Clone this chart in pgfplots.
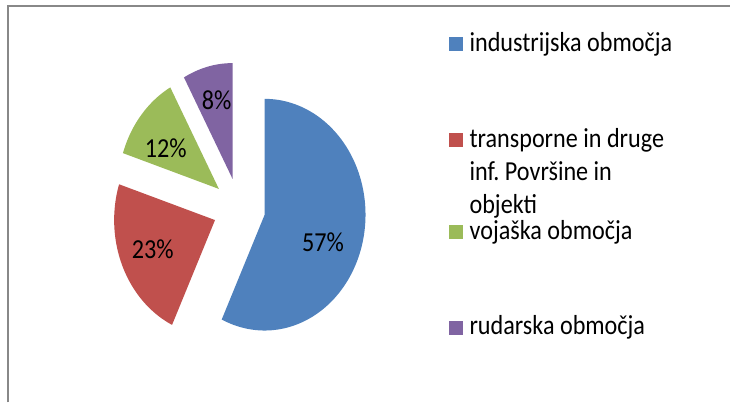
\documentclass[border=0pt]{standalone}
\usepackage{pgfplots}
\pgfplotsset{compat=1.18}
\usepackage{graphicx}
\usepackage{fontspec}
\setmainfont{Carlito}
\frenchspacing
\definecolor{cA}{HTML}{4F81BD}
\definecolor{cB}{HTML}{C0504D}
\definecolor{cC}{HTML}{9BBB59}
\definecolor{cD}{HTML}{8064A2}
\definecolor{framegray}{HTML}{888888}
\newcommand\txt[1]{\scalebox{0.88}[1]{\fontsize{27.5}{33}\selectfont #1}}
\begin{document}
\begin{tikzpicture}
% data: shares in percent
\def\pA{57}\def\pB{23}\def\pC{12}\def\pD{8}
% geometry (pixel units)
\def\rx{101}\def\ry{116}\def\cx{239.4}\def\cy{208.4}\def\ex{0.26}
\pgfmathsetmacro\sA{90}
\pgfmathsetmacro\eA{\sA-3.6*\pA}
\pgfmathsetmacro\eB{\eA-3.6*\pB}
\pgfmathsetmacro\eC{\eB-3.6*\pC}
\pgfmathsetmacro\eD{\eC-3.6*\pD}
\pgfmathsetmacro\mA{(\sA+\eA)/2}
\pgfmathsetmacro\mB{(\eA+\eB)/2}
\pgfmathsetmacro\mC{(\eB+\eC)/2}
\pgfmathsetmacro\mD{(\eC+\eD)/2}
\pgfmathsetmacro\xA{\cx+\ex*\rx*cos(\mA)}\pgfmathsetmacro\yA{\cy-\ex*\ry*sin(\mA)}
\pgfmathsetmacro\xB{\cx+\ex*\rx*cos(\mB)}\pgfmathsetmacro\yB{\cy-\ex*\ry*sin(\mB)}
\pgfmathsetmacro\xC{\cx+\ex*\rx*cos(\mC)}\pgfmathsetmacro\yC{\cy-\ex*\ry*sin(\mC)}
\pgfmathsetmacro\xD{\cx+\ex*\rx*cos(\mD)}\pgfmathsetmacro\yD{\cy-\ex*\ry*sin(\mD)}
\begin{axis}[width=731pt,height=403pt,scale only axis,
  xmin=0,xmax=731,ymin=0,ymax=403,y dir=reverse,hide axis,clip=false]
\path (axis cs:0,0) rectangle (axis cs:731,403);
\addplot[fill=cA, draw=none, domain=\eA:\sA, samples=120] ({\xA+\rx*cos(x)},{\yA-\ry*sin(x)}) -- (axis cs:\xA,\yA) -- cycle;
\addplot[fill=cB, draw=none, domain=\eB:\eA, samples=60] ({\xB+\rx*cos(x)},{\yB-\ry*sin(x)}) -- (axis cs:\xB,\yB) -- cycle;
\addplot[fill=cC, draw=none, domain=\eC:\eB, samples=40] ({\xC+\rx*cos(x)},{\yC-\ry*sin(x)}) -- (axis cs:\xC,\yC) -- cycle;
\addplot[fill=cD, draw=none, domain=\eD:\eC, samples=30] ({\xD+\rx*cos(x)},{\yD-\ry*sin(x)}) -- (axis cs:\xD,\yD) -- cycle;
% data labels
\node at (axis cs:323.5,243) {\txt{\pA\%}};
\node at (axis cs:153,250) {\txt{\pB\%}};
\node at (axis cs:166,148) {\txt{\pC\%}};
\node at (axis cs:217,100) {\txt{\pD\%}};
% frame
\draw[framegray, line width=2pt] (axis cs:8,403) -- (axis cs:8,6) -- (axis cs:731,6);
% legend
\fill[cA] (axis cs:450,37.5) rectangle (axis cs:464,51.5);
\node[anchor=base west, inner sep=0pt] at (axis cs:470,51.5) {\txt{industrijska območja}};
\fill[cB] (axis cs:450,133.5) rectangle (axis cs:464,147.5);
\node[anchor=base west, inner sep=0pt] at (axis cs:470,147.5) {\txt{transporne in druge}};
\node[anchor=base west, inner sep=0pt] at (axis cs:470,181) {\txt{inf.\ Površine in}};
\node[anchor=base west, inner sep=0pt] at (axis cs:470,213.5) {\txt{objekti}};
\fill[cC] (axis cs:450,225.5) rectangle (axis cs:464,239.5);
\node[anchor=base west, inner sep=0pt] at (axis cs:470,239.5) {\txt{vojaška območja}};
\fill[cD] (axis cs:450,321) rectangle (axis cs:464,335);
\node[anchor=base west, inner sep=0pt] at (axis cs:470,335) {\txt{rudarska območja}};
\end{axis}
\end{tikzpicture}
\end{document}
